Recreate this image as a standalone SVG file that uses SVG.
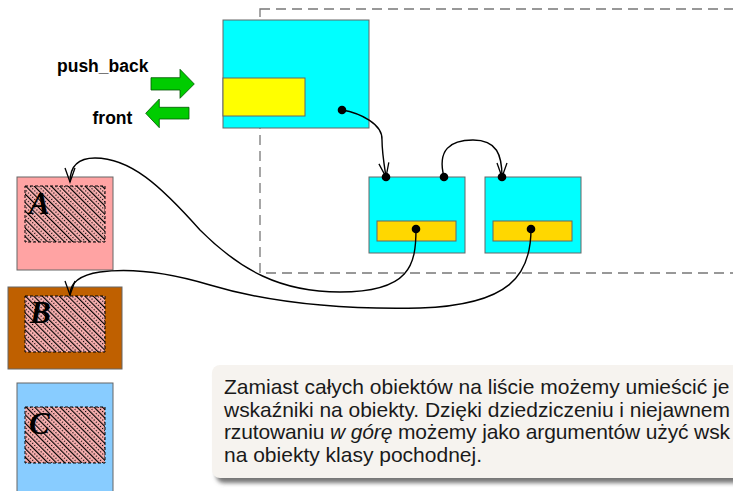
<svg xmlns="http://www.w3.org/2000/svg" width="733" height="491" viewBox="0 0 733 491">
<style>
.box{stroke:#666;stroke-width:1}
.cyan{fill:#00FFFF}
.hatch{fill:url(#hp);stroke:#000;stroke-width:1;stroke-dasharray:3,2}
.conn{fill:none;stroke:#000;stroke-width:1.4}
.dot{fill:#000}
.lbl{font-family:"Liberation Sans",Arial,sans-serif;font-weight:bold;font-size:17.5px;fill:#000}
.let{font-family:"Liberation Serif","Times New Roman",serif;font-weight:bold;font-style:italic;font-size:31px;fill:#000}
.garrow{fill:#00CC00;stroke:#005500;stroke-width:0.8}
.txt{font-family:"Liberation Sans",Arial,sans-serif;font-size:21px;fill:#1a1a1a}
</style>
<defs>
<pattern id="hp" patternUnits="userSpaceOnUse" width="6" height="6" patternTransform="rotate(-45)">
<rect width="6" height="6" fill="#FFB4B4"/>
<line x1="0.6" y1="0" x2="0.6" y2="6" stroke="#000" stroke-width="1.2"/>
<line x1="3.6" y1="0" x2="3.6" y2="6" stroke="#000" stroke-width="1.2" stroke-dasharray="1.2,1.8"/>
</pattern>
<marker id="arr" markerUnits="userSpaceOnUse" markerWidth="16" markerHeight="12" refX="14" refY="5" orient="auto" overflow="visible">
<path d="M0,0 L14,5 L0,10" fill="none" stroke="#000" stroke-width="1.3"/>
</marker>
<filter id="sh" x="-5%" y="-20%" width="110%" height="140%">
<feGaussianBlur stdDeviation="2"/>
</filter>
</defs>

<g id="container">
<rect x="260" y="9" width="500" height="264" fill="none" stroke="#777" stroke-width="1.3" stroke-dasharray="10,6"/>
</g>

<g id="list-head">
<rect class="box cyan" x="223" y="20" width="146" height="108"/>
<rect class="box" x="223" y="78" width="82" height="38" fill="#FFFF00"/>
</g>

<g id="push_back">
<text class="lbl" x="57" y="72">push_back</text>
<polygon class="garrow" points="151,77.7 180,77.7 180,69.3 194.3,84 180,98.3 180,90 151,90"/>
</g>
<g id="front">
<text class="lbl" x="92.5" y="124">front</text>
<polygon class="garrow" points="145.7,113.3 159.3,99 159.3,107.3 189,107.3 189,119 159.3,119 159.3,127.7"/>
</g>

<g id="node1">
<rect class="box cyan" x="369" y="177" width="96" height="76"/>
<rect class="box" x="377" y="221" width="79" height="20" fill="#FFD700"/>
</g>
<g id="node2">
<rect class="box cyan" x="485" y="177" width="96" height="76"/>
<rect class="box" x="493" y="221" width="79" height="20" fill="#FFD700"/>
</g>

<g id="objA">
<rect class="box" x="17" y="177" width="96" height="93" fill="#FFA3A3"/>
<rect class="hatch" x="25" y="186" width="80" height="56"/>
<text class="let" x="29" y="214">A</text>
</g>
<g id="objB">
<rect class="box" x="8" y="287" width="114" height="82" fill="#BF6000" stroke="#553300"/>
<rect class="hatch" x="25" y="296" width="80" height="56"/>
<text class="let" x="30" y="323">B</text>
</g>
<g id="objC">
<rect class="box" x="17" y="383" width="96" height="120" fill="#88CCFF"/>
<rect class="hatch" x="25" y="407" width="80" height="56"/>
<text class="let" x="29" y="434">C</text>
</g>

<g id="connectors">
<path class="conn" marker-end="url(#arr)" d="M342,110 C360,113 383,124 382,140 C382,152 384,164 386,177"/>
<path class="conn" marker-end="url(#arr)" d="M444,177 C437,150 450,140 473,140 C497,140 502,155 502,177"/>
<path class="conn" marker-end="url(#arr)" d="M416,229 C416,265 410,292 340,292 C280,292 240,270 200,230 C160,185 130,158 95,158 C78,158 70,166 70,182"/>
<path class="conn" marker-end="url(#arr)" d="M531,229 C531,275 510,305 420,308 C330,310 260,300 210,285 C170,273 130,268 100,272 C80,275 70,282 70,295"/>
<circle class="dot" cx="342" cy="110" r="4.3"/>
<circle class="dot" cx="386" cy="177" r="4.3"/>
<circle class="dot" cx="444" cy="177" r="4.3"/>
<circle class="dot" cx="502" cy="177" r="4.3"/>
<circle class="dot" cx="416" cy="229" r="4.3"/>
<circle class="dot" cx="531" cy="229" r="4.3"/>
</g>

<g id="note">
<rect x="216" y="370" width="540" height="113" rx="8" fill="#777" filter="url(#sh)"/>
<rect x="212" y="365" width="540" height="113" rx="8" fill="#F6F3EF"/>
<text class="txt" x="224" y="394">Zamiast całych obiektów na liście możemy umieścić je</text>
<text class="txt" x="224" y="416.5" textLength="506" lengthAdjust="spacing">wskaźniki na obiekty. Dzięki dziedziczeniu i niejawnem</text>
<text class="txt" x="224" y="439" textLength="506" lengthAdjust="spacing">rzutowaniu <tspan font-style="italic">w górę</tspan> możemy jako argumentów użyć wsk</text>
<text class="txt" x="224" y="461.5">na obiekty klasy pochodnej.</text>
</g>
</svg>
